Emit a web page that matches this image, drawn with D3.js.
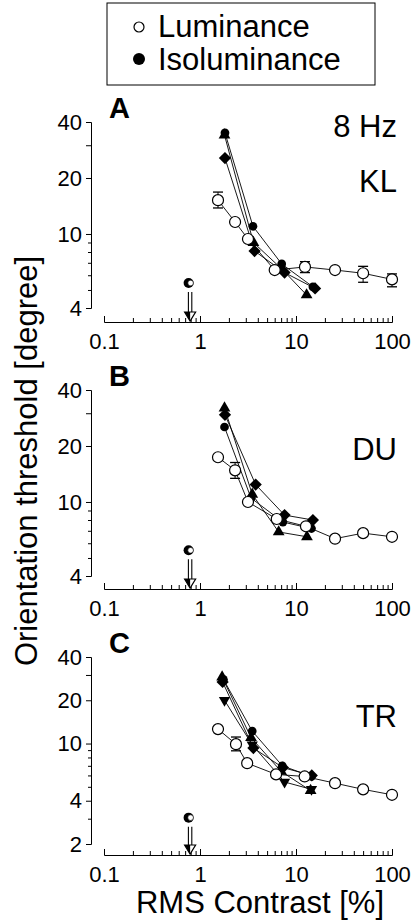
<!DOCTYPE html>
<html>
<head>
<meta charset="utf-8">
<script src="https://cdn.jsdelivr.net/npm/d3@7"></script>
<style>
  body { margin: 0; background: #fff; }
  svg text { font-family: "Liberation Sans", Arial, Helvetica, sans-serif; fill: #000; }
</style>
</head>
<body>
<svg id="chart" width="413" height="920"></svg>
<script>
// --- data ---
const xTickLabels = [0.1, 1, 10, 100];
const panelNames = ["A", "B", "C"];
const subjects = ["KL", "DU", "TR"];
const legendLabels = ["Luminance", "Isoluminance"];

// luminance: [contrast %, threshold deg, errLow, errHigh] (0 = no bar)
const klLum = [[1.54, 15.2, 13.8, 16.8], [2.32, 11.6, 0, 0], [3.16, 9.4, 0, 0], [6.0, 6.4, 0, 0],
               [12.4, 6.65, 6.2, 7.1], [25.5, 6.4, 0, 0], [50, 6.15, 5.5, 6.7], [100, 5.7, 5.2, 6.1]];
const duLum = [[1.54, 17.4, 0, 0], [2.32, 14.8, 13.4, 16.3], [3.16, 10.0, 0, 0], [6.3, 8.1, 0, 0],
               [12.7, 7.4, 0, 0], [25.5, 6.35, 0, 0], [50, 6.8, 0, 0], [100, 6.5, 0, 0]];
const trLum = [[1.54, 12.6, 0, 0], [2.37, 9.9, 8.9, 11.1], [3.1, 7.3, 0, 0], [6.2, 6.1, 0, 0],
               [12.3, 5.9, 0, 0], [25.5, 5.3, 0, 0], [50, 4.8, 0, 0], [100, 4.4, 0, 0]];

// isoluminance, several conditions per subject
const klIsoCircle = [[1.82, 35], [3.56, 11.0], [7.1, 6.9], [15, 5.2]];
const klIsoDiamond = [[1.82, 25.6], [3.7, 8.1], [7.6, 6.2], [15.8, 5.1]];
const klIsoTriangle = [[1.8, 34], [3.6, 9.0], [7.3, 6.4], [12.9, 4.7]];

const duIsoCircle = [[1.8, 25.3], [3.4, 10.5], [7.3, 7.8], [14.5, 7.2]];
const duIsoDiamond = [[1.82, 29.4], [3.8, 12.4], [7.6, 8.5], [15, 8.0]];
const duIsoTriangle = [[1.8, 32], [3.5, 11.0], [6.6, 6.9], [13, 6.5]];

const trIsoCircle = [[1.75, 28], [3.5, 12.2], [7.2, 7.0], [14.5, 5.9]];
const trIsoDiamond = [[1.72, 26.8], [3.6, 9.3], [7.3, 6.8], [14.6, 6.0]];
const trIsoTriangle = [[1.7, 29], [3.4, 11.0], [7.0, 6.4], [14.2, 4.7]];
const trIsoInvTriangle = [[1.8, 20], [3.5, 9.8], [7.6, 5.4], [14.5, 4.8]];

// detection threshold marker (contrast, threshold)
const klDetect = [0.77, 5.45];
const duDetect = [0.77, 5.5];
const trDetect = [0.77, 3.05];

const yTicksAB = [4, 5, 6, 7, 8, 9, 10, 20, 30, 40];
const yLabelsAB = [4, 10, 20, 40];
const yTicksC = [2, 3, 4, 5, 6, 7, 8, 9, 10, 20, 30, 40];
const yLabelsC = [2, 4, 10, 20, 40];

// --- layout ---
const svg = d3.select("#chart");
const x = d3.scaleLog().domain([0.1, 100]).range([104, 392]);
const xMinor = [];
[0.1, 1, 10].forEach(d => { for (let k = 2; k <= 9; k++) xMinor.push(+(d * k).toPrecision(3)); });

const panels = [
  { letter: panelNames[0], subj: subjects[0], yDom: [4, 40], yRange: [308, 122], xAxisY: 322,
    ticks: yTicksAB, labels: yLabelsAB, lum: klLum, detect: klDetect,
    iso: [[klIsoTriangle, "tri"], [klIsoDiamond, "dia"], [klIsoCircle, "cir"]], extra: "8 Hz" },
  { letter: panelNames[1], subj: subjects[1], yDom: [4, 40], yRange: [576, 390], xAxisY: 589,
    ticks: yTicksAB, labels: yLabelsAB, lum: duLum, detect: duDetect,
    iso: [[duIsoTriangle, "tri"], [duIsoCircle, "cir"], [duIsoDiamond, "dia"]] },
  { letter: panelNames[2], subj: subjects[2], yDom: [2, 40], yRange: [844, 657], xAxisY: 855,
    ticks: yTicksC, labels: yLabelsC, lum: trLum, detect: trDetect,
    iso: [[trIsoTriangle, "tri"], [trIsoInvTriangle, "inv"], [trIsoCircle, "cir"], [trIsoDiamond, "dia"]] }
];

const symbolFor = {
  cir: d3.symbol(d3.symbolCircle, 60),
  dia: d3.symbol(d3.symbolSquare, 75),
  tri: d3.symbol(d3.symbolTriangle, 60),
  inv: d3.symbol(d3.symbolTriangle, 55)
};
const rotFor = { cir: 0, dia: 45, tri: 0, inv: 180 };

panels.forEach(p => {
  const y = d3.scaleLog().domain(p.yDom).range(p.yRange);
  const g = svg.append("g");

  // y axis
  const yAx = g.append("g")
    .attr("transform", "translate(91,0)")
    .call(d3.axisLeft(y).tickValues(p.ticks).tickSizeOuter(0).tickSize(5).tickPadding(4)
      .tickFormat(d => p.labels.includes(d) ? d : ""));
  yAx.select(".domain").attr("stroke-width", 1);
  yAx.selectAll(".tick line").attr("x2", d => p.labels.includes(d) || d === 30 ? -5 : -3);
  yAx.selectAll("text").style("font-size", "22px").style("font-family", "Liberation Sans, Arial, sans-serif");

  // x axis, ticks point upward
  const xAx = g.append("g")
    .attr("transform", `translate(0,${p.xAxisY})`)
    .call(d3.axisBottom(x).tickValues(xTickLabels.concat(xMinor)).tickSizeOuter(0).tickSize(-6).tickPadding(11)
      .tickFormat(d => xTickLabels.includes(d) ? d3.format("")(d) : ""));
  xAx.selectAll(".tick line").attr("y2", d => xTickLabels.includes(d) ? -6 : -4);
  xAx.selectAll("text").style("font-size", "22px").style("font-family", "Liberation Sans, Arial, sans-serif");

  // panel letter and subject
  g.append("text").attr("x", 109).attr("y", p.yRange[1] - 4)
    .style("font-size", "29px").style("font-weight", "bold").text(p.letter);
  g.append("text").attr("x", 397).attr("y", p.yRange[1] + 70).attr("text-anchor", "end")
    .style("font-size", "31px").text(p.subj);
  if (p.extra) {
    g.append("text").attr("x", 397).attr("y", p.yRange[1] + 15).attr("text-anchor", "end")
      .style("font-size", "31px").text(p.extra);
  }

  const line = d3.line().x(d => x(d[0])).y(d => y(d[1]));

  // isoluminance lines
  p.iso.forEach(([s]) => {
    g.append("path").datum(s).attr("d", line)
      .attr("fill", "none").attr("stroke", "#000").attr("stroke-width", 0.9);
  });
  // luminance line
  g.append("path").datum(p.lum).attr("d", line)
    .attr("fill", "none").attr("stroke", "#000").attr("stroke-width", 0.9);

  // error bars on luminance
  p.lum.filter(d => d[2] > 0).forEach(d => {
    const cx = x(d[0]);
    g.append("line").attr("x1", cx).attr("x2", cx).attr("y1", y(d[2])).attr("y2", y(d[3]))
      .attr("stroke", "#000").attr("stroke-width", 1);
    [d[2], d[3]].forEach(v => {
      g.append("line").attr("x1", cx - 5).attr("x2", cx + 5).attr("y1", y(v)).attr("y2", y(v))
        .attr("stroke", "#000").attr("stroke-width", 1.3);
    });
  });

  // isoluminance markers
  p.iso.forEach(([s, kind]) => {
    g.selectAll(null).data(s).enter().append("path")
      .attr("d", symbolFor[kind])
      .attr("transform", d => `translate(${x(d[0])},${y(d[1])}) rotate(${rotFor[kind]})`)
      .attr("fill", "#000");
  });

  // luminance markers
  g.selectAll(null).data(p.lum).enter().append("circle")
    .attr("cx", d => x(d[0])).attr("cy", d => y(d[1])).attr("r", 5.5)
    .attr("fill", "#fff").attr("stroke", "#000").attr("stroke-width", 1.2);

  // detection threshold marker and double arrow
  const dx = x(p.detect[0]), dy = y(p.detect[1]);
  g.append("circle").attr("cx", dx - 0.5).attr("cy", dy).attr("r", 5).attr("fill", "#000");
  g.append("circle").attr("cx", dx + 1.5).attr("cy", dy).attr("r", 2.8)
    .attr("fill", "#fff").attr("stroke", "#000").attr("stroke-width", 0.6);
  const ax = x(p.detect[0]) + 1, ay0 = dy + 9, ay1 = p.xAxisY - 10;
  [-1.7, 1.7].forEach(o => {
    g.append("line").attr("x1", ax + o).attr("x2", ax + o).attr("y1", ay0).attr("y2", ay1)
      .attr("stroke", "#000").attr("stroke-width", 1.1);
  });
  g.append("path").attr("d", `M${ax - 5.5},${ay1}L${ax + 5.5},${ay1}L${ax},${ay1 + 9}Z`)
    .attr("fill", "#fff").attr("stroke", "#000").attr("stroke-width", 1.2);
  g.append("path").attr("d", `M${ax - 5.5},${ay1}L${ax},${ay1}L${ax},${ay1 + 9}Z`).attr("fill", "#000");
});

// legend
svg.append("rect").attr("x", 107).attr("y", 3).attr("width", 268).attr("height", 82)
  .attr("fill", "none").attr("stroke", "#000").attr("stroke-width", 1);
svg.append("circle").attr("cx", 139).attr("cy", 27).attr("r", 5)
  .attr("fill", "#fff").attr("stroke", "#000").attr("stroke-width", 1.2);
svg.append("circle").attr("cx", 139).attr("cy", 59).attr("r", 6).attr("fill", "#000");
svg.append("text").attr("x", 158).attr("y", 37).style("font-size", "31px").text(legendLabels[0]);
svg.append("text").attr("x", 158).attr("y", 70).style("font-size", "31px").text(legendLabels[1]);

// axis titles
svg.append("text").attr("transform", "translate(37,461) rotate(-90)").attr("text-anchor", "middle")
  .style("font-size", "31px").text("Orientation threshold [degree]");
svg.append("text").attr("x", 260).attr("y", 913).attr("text-anchor", "middle")
  .style("font-size", "31px").text("RMS Contrast [%]");
</script>
</body>
</html>
